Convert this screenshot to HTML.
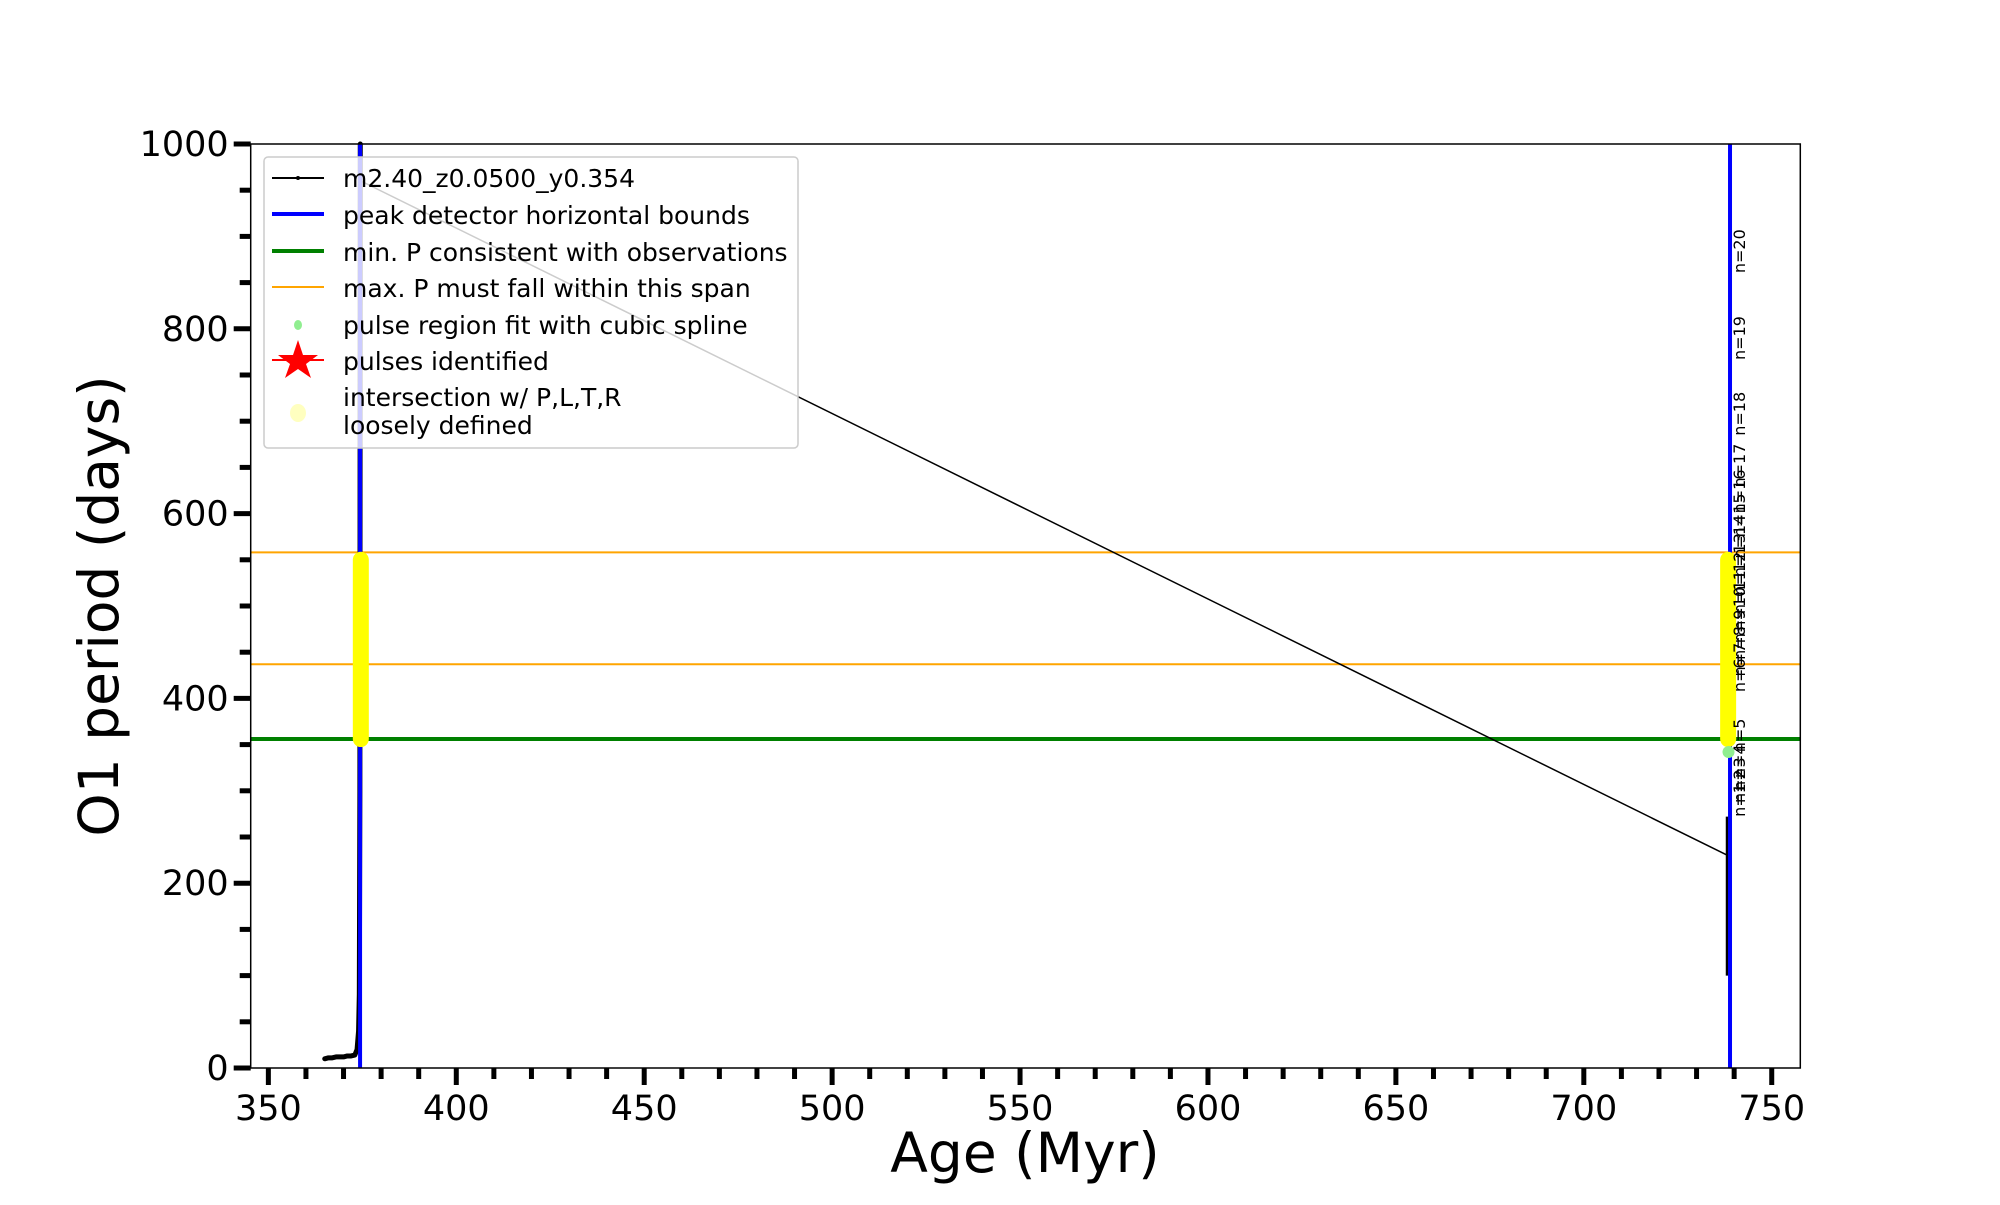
<!DOCTYPE html>
<html><head><meta charset="utf-8"><style>
html,body{margin:0;padding:0;background:#fff;}
svg text{font-family:"DejaVu Sans","Liberation Sans",sans-serif;}
</style></head><body>
<svg id="chart" width="2000" height="1200" xmlns="http://www.w3.org/2000/svg">
<rect width="2000" height="1200" fill="#fff"/>
<g id="plot"></g>
<g id="axes"></g>
<g id="legend"></g>
</svg>
<script>
// data
const xTicks = [350,400,450,500,550,600,650,700,750];
const yTicks = [0,200,400,600,800,1000];
const minP = [356];
const maxPSpan = [437, 558];
const blueAges = [374.4, 738.9];
const curveAge = [365,366,367,368,369,370,371,372,373,373.6,374.0,374.2,374.35,374.45];
const curveP =   [10,11,11,12,12,12,13,13,14,20,40,80,300,1000];
const connectAge = [374.6, 738.3];
const connectP = [960, 230];
const rightSegAge = [738.3, 738.3];
const rightSegP = [100, 272];
const yellowAges = [374.6, 738.4];
const yellowRange = [356, 550];
const greenAge = [738.5];
const greenP = [342];
const nLabels = ['n=1','n=2','n=3','n=4','n=5','n=6','n=7','n=8','n=9','n=10','n=11','n=12','n=13','n=14','n=15','n=16','n=17','n=18','n=19','n=20'];
const nP = [290,305,318,332,360,425,442,460,478,497,515,535,555,575,598,624,652,708,790,884];

const NS='http://www.w3.org/2000/svg';
const L=250.7,R=1800.3,T=144,B=1068,X0=345.3,X1=757.6,Y0=0,Y1=1000;
const sx=v=>L+(v-X0)/(X1-X0)*(R-L);
const sy=v=>B-(v-Y0)/(Y1-Y0)*(B-T);
function mk(tag,attrs,parent,txt){const e=document.createElementNS(NS,tag);for(const k in attrs)e.setAttribute(k,attrs[k]);if(txt!==undefined)e.textContent=txt;parent.appendChild(e);return e;}
const plot=document.getElementById('plot'),axes=document.getElementById('axes'),leg=document.getElementById('legend');

maxPSpan.forEach(p=>{const e=mk('line',{x1:L,x2:R,y1:sy(p),y2:sy(p),stroke:'orange','stroke-width':2},plot);

});
minP.forEach(p=>{const e=mk('line',{x1:L,x2:R,y1:sy(p),y2:sy(p),stroke:'green','stroke-width':4},plot);

});
let d=curveAge.map((a,i)=>(i?'L':'M')+sx(a)+','+sy(curveP[i])).join(' ');
let e=mk('path',{d:d,fill:'none',stroke:'#000','stroke-width':5,'stroke-linejoin':'round','stroke-linecap':'round'},plot);


e=mk('line',{x1:sx(connectAge[0]),y1:sy(connectP[0]),x2:sx(connectAge[1]),y2:sy(connectP[1]),stroke:'#000','stroke-width':1.5},plot);


e=mk('line',{x1:sx(rightSegAge[0]),y1:sy(rightSegP[0]),x2:sx(rightSegAge[1]),y2:sy(rightSegP[1]),stroke:'#000','stroke-width':4},plot);


blueAges.forEach(a=>{const e=mk('line',{x1:sx(a),x2:sx(a),y1:T,y2:B,stroke:'#0000ff','stroke-width':4},plot);

});
yellowAges.forEach(a=>{const e=mk('line',{x1:sx(a),x2:sx(a),y1:sy(yellowRange[0]),y2:sy(yellowRange[1]),stroke:'#ffff00','stroke-width':16,'stroke-linecap':'round'},plot);

});
greenAge.forEach((a,i)=>{const e=mk('circle',{cx:sx(a),cy:sy(greenP[i]),r:6,fill:'lightgreen'},plot);

});
nLabels.forEach((t,i)=>{const x=1745,y=sy(nP[i]);const e=mk('text',{x:x,y:y,'font-size':16,'text-anchor':'middle',transform:`rotate(-90 ${x} ${y})`},plot,t);

});

e=mk('rect',{x:L,y:T,width:R-L,height:B-T,fill:'none',stroke:'#000','stroke-width':1.5},axes);


for(let v=350;v<=750;v+=10){const maj=v%50===0;mk('line',{x1:sx(v),x2:sx(v),y1:B,y2:B+(maj?17:11),stroke:'#000','stroke-width':5},axes);}
xTicks.forEach(v=>{const e=mk('text',{x:sx(v),y:B+52,'font-size':35,'text-anchor':'middle'},axes,v);

});
for(let v=0;v<=1000;v+=50){const maj=v%200===0;mk('line',{x1:L,x2:L-(maj?17:11),y1:sy(v),y2:sy(v),stroke:'#000','stroke-width':5},axes);}
yTicks.forEach(v=>{const e=mk('text',{x:L-22,y:sy(v)+12,'font-size':35,'text-anchor':'end'},axes,v);

});
e=mk('text',{x:1025,y:1172,'font-size':55,'text-anchor':'middle'},axes,'Age (Myr)');


e=mk('text',{x:118,y:606,'font-size':55,'text-anchor':'middle',transform:'rotate(-90 118 606)'},axes,'O1 period (days)');



e=mk('rect',{x:264,y:157,width:534,height:291,rx:4,fill:'rgba(255,255,255,0.8)',stroke:'#ccc','stroke-width':1.5},leg);


const items=[['m2.40_z0.0500_y0.354',178],['peak detector horizontal bounds',215],['min. P consistent with observations',252],['max. P must fall within this span',288],['pulse region fit with cubic spline',325],['pulses identified',361]];
items.forEach(([t,y])=>{const e=mk('text',{x:343,y:y+9,'font-size':25},leg,t);

});
mk('text',{x:343,y:406,'font-size':25},leg,'intersection w/ P,L,T,R');
mk('text',{x:343,y:434,'font-size':25},leg,'loosely defined');
mk('line',{x1:272,x2:324,y1:178,y2:178,stroke:'#000','stroke-width':2},leg);
mk('circle',{cx:298,cy:178,r:2,fill:'#000'},leg);
mk('line',{x1:272,x2:324,y1:214,y2:214,stroke:'#0000ff','stroke-width':4},leg);
mk('line',{x1:272,x2:324,y1:251,y2:251,stroke:'green','stroke-width':4},leg);
mk('line',{x1:272,x2:324,y1:287,y2:287,stroke:'orange','stroke-width':2},leg);
mk('ellipse',{cx:298,cy:325,rx:4,ry:5,fill:'lightgreen'},leg);
mk('line',{x1:272,x2:324,y1:360,y2:360,stroke:'red','stroke-width':2},leg);
mk('polygon',{points:'298,340 303,355 318,355 306,364 311,378 298,369 285,378 290,364 278,355 293,355',fill:'red'},leg);
mk('ellipse',{cx:298,cy:413,rx:8,ry:9,fill:'#ffffc0'},leg);
</script>
</body></html>
